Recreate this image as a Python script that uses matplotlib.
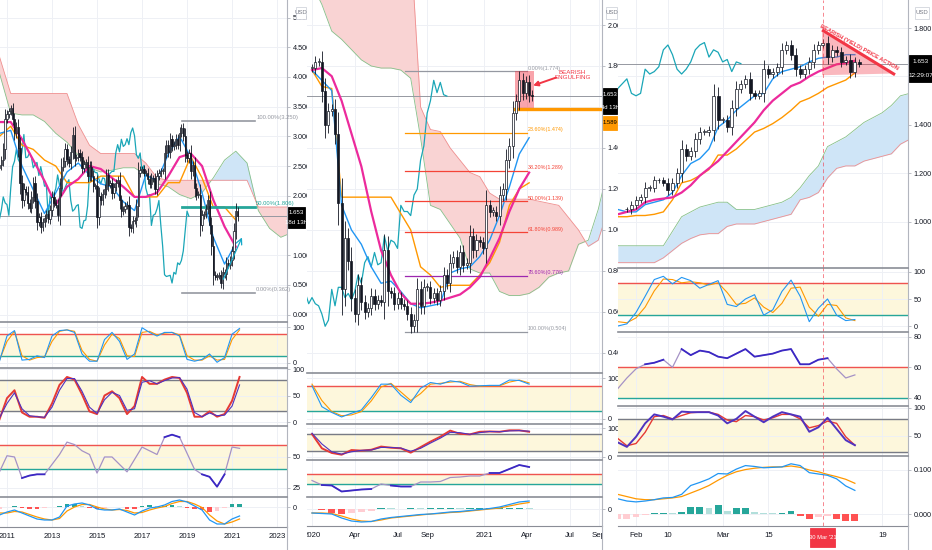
import numpy as np
import matplotlib.pyplot as plt
from matplotlib.patches import Rectangle, Polygon
from matplotlib.lines import Line2D
from matplotlib.transforms import Bbox, TransformedBbox
from matplotlib import font_manager

names = {f.name for f in font_manager.fontManager.ttflist}
fams = [f for f in ['Liberation Sans Narrow', 'Liberation Sans', 'DejaVu Sans'] if f in names]
plt.rcParams['font.family'] = fams

# ---------------- data: left panel, monthly, months since Jan 2010 ----------------
left_close = [2.47, 2.51, 2.60, 2.79, 3.29,
              3.37, 3.42, 3.47, 3.29, 3.05, 3.16, 2.80, 2.22, 1.92, 2.11, 2.07, 1.88,
              1.80, 1.98, 2.21, 1.91, 1.56, 1.64, 1.47, 1.55, 1.63, 1.69, 1.61, 1.76,
              1.98, 1.88, 1.85, 1.67, 2.13, 2.49, 2.58, 2.78, 2.61, 2.55, 2.74, 3.03,
              2.64, 2.65, 2.72, 2.65, 2.47, 2.53, 2.56, 2.34, 2.49, 2.34, 2.16, 2.17,
              1.64, 2.00, 1.92, 2.03, 2.12, 2.35, 2.18, 2.21, 2.04, 2.14, 2.21, 2.27,
              1.92, 1.74, 1.77, 1.83, 1.85, 1.47, 1.45, 1.58, 1.59, 1.83, 2.38, 2.44,
              2.45, 2.39, 2.39, 2.28, 2.20, 2.30, 2.29, 2.12, 2.33, 2.38, 2.41, 2.41,
              2.72, 2.86, 2.74, 2.95, 2.83, 2.86, 2.96, 2.86, 3.06, 3.14, 3.01, 2.69,
              2.63, 2.72, 2.41, 2.51, 2.13, 2.01, 2.02, 1.50, 1.67, 1.69, 1.78, 1.92,
              1.51, 1.15, 0.67, 0.64, 0.65, 0.66, 0.53, 0.71, 0.68, 0.87, 0.84, 0.91,
              1.07, 1.41, 1.74, 1.653]
left_tenkan = [3.05, 3.1, 2.5, 2.1, 1.7, 2.05, 2.4, 2.55, 2.35, 2.2, 2.15, 1.9, 1.75,
               2.35, 2.25, 2.7, 3.0, 2.65, 2.05, 1.3, 0.85, 1.2]
left_kijun = [3.0, 3.17, 2.85, 2.78, 2.6, 2.5, 2.22, 2.22, 2.22, 2.33, 2.33, 2.33, 1.98,
              1.98, 1.98, 2.22, 2.22, 2.66, 2.3, 1.81, 1.81, 1.59]
left_ma = [3.24, 3.24, 2.95, 2.6, 2.25, 1.85, 2.15, 2.28, 2.5, 2.45, 2.3, 2.15, 1.98,
           1.98, 2.05, 2.33, 2.65, 2.71, 2.5, 1.93, 1.48, 1.14]
left_span_a = [4.06, 3.39, 3.36, 3.36, 3.25, 3.05, 2.9, 2.68, 2.47, 2.4, 2.43, 2.47, 2.47,
               2.35, 2.2, 2.15, 2.02, 1.95, 2.05, 2.3, 2.6, 2.75, 2.55, 1.75, 1.45, 1.3, 1.38]
left_span_b = [4.34, 3.72, 3.72, 3.72, 3.72, 3.72, 3.72, 3.2, 2.85, 2.71, 2.71, 2.71, 2.71,
               2.55, 2.3, 2.26, 2.26, 2.26, 2.26, 2.26, 2.26, 2.26, 2.26, 1.81, 1.81, 1.81, 1.81]
left_stoch_k = [5, 75, 90, 8, 10, 20, 15, 75, 90, 92, 85, 25, 5, 5, 65, 85, 60, 10, 25, 98,
                85, 75, 85, 85, 75, 10, 5, 10, 25, 2, 15, 80, 96]
left_stoch_d = [8, 60, 88, 20, 8, 15, 17, 60, 88, 92, 88, 35, 10, 5, 50, 80, 68, 20, 18, 85,
                88, 78, 83, 85, 78, 20, 8, 8, 20, 8, 10, 65, 92]
left_srsi_k = [5, 45, 60, 18, 10, 10, 8, 35, 70, 85, 80, 52, 20, 15, 50, 58, 45, 15, 30, 85,
               72, 72, 80, 85, 83, 55, 10, 10, 20, 10, 15, 40, 85]
left_srsi_d = [8, 35, 55, 25, 12, 10, 9, 28, 60, 82, 82, 58, 28, 16, 42, 56, 50, 22, 25, 75,
               78, 72, 78, 83, 84, 62, 18, 10, 17, 12, 13, 30, 70]
left_rsi = [38, 51, 50, 33, 35, 36, 36, 44, 52, 62, 60, 55, 52, 37, 50, 50, 44, 38, 48, 58,
            55, 52, 66, 68, 66, 53, 40, 36, 34, 26, 36, 58, 57]
left_macd = [-0.8, -0.5, -0.3, -0.6, -0.9, -1.2, -1.3, -1.3, -1.0, 0.1, 0.3, 0.4, 0.2, -0.2,
             -0.3, -0.3, -0.2, -0.5, -0.8, -0.4, -0.1, 0.0, 0.2, 0.55, 0.7, 0.5, 0.1, -0.3,
             -1.3, -1.7, -1.7, -1.2, -0.9]
left_signal = [-0.6, -0.6, -0.45, -0.5, -0.75, -1.0, -1.2, -1.3, -1.15, -0.4, 0.0, 0.25, 0.25,
               0.0, -0.2, -0.3, -0.25, -0.35, -0.6, -0.55, -0.3, -0.1, 0.05, 0.35, 0.55, 0.55,
               0.3, -0.05, -0.8, -1.4, -1.7, -1.5, -1.2]
left_hist = [-0.2, 0.05, 0.1, -0.1, -0.15, -0.2, -0.1, 0.0, 0.15, 0.3, 0.3, 0.15, -0.05, -0.2,
             -0.1, 0.0, 0.05, -0.15, -0.2, 0.15, 0.2, 0.1, 0.15, 0.2, 0.15, -0.05, -0.2, -0.25,
             -0.5, -0.4, -0.1, 0.3, 0.3]
left_fib = [('100.00%', 3.250), ('50.00%', 1.806), ('0.00%', 0.362)]
left_years = ['2011', '2013', '2015', '2017', '2019', '2021', '2023']

# ---------------- data: middle panel, weekly, weeks since Jan 2020 ----------------
mid_close = [1.79, 1.82, 1.82, 1.68, 1.51, 1.58, 1.59, 1.47, 1.13, 0.71,
             0.96, 0.85, 0.67, 0.59, 0.73, 0.65, 0.60, 0.62, 0.68, 0.64,
             0.66, 0.65, 0.90, 0.70, 0.69, 0.64, 0.67, 0.64, 0.63, 0.59,
             0.53, 0.56, 0.71, 0.63, 0.72, 0.72, 0.67, 0.69, 0.66, 0.70,
             0.78, 0.74, 0.84, 0.87, 0.82, 0.89, 0.83, 0.84, 0.97, 0.90,
             0.95, 0.94, 0.91, 1.12, 1.09, 1.09, 1.07, 1.17, 1.20, 1.34,
             1.41, 1.57, 1.63, 1.73, 1.67, 1.72, 1.66, 1.653]
mid_tenkan = [1.78, 1.73, 1.68, 1.12, 1.0, 0.93, 0.82, 0.74, 0.75, 0.70, 0.64, 0.62, 0.63,
              0.64, 0.79, 0.81, 0.82, 0.87, 0.95, 1.07, 1.21, 1.37, 1.45]
mid_kijun = [1.78, 1.70, 1.69, 1.16, 1.16, 1.16, 1.16, 1.16, 1.16, 1.08, 1.0, 0.82, 0.78,
             0.72, 0.73, 0.73, 0.73, 0.78, 0.84, 0.94, 1.12, 1.2, 1.23]
mid_ma = [1.78, 1.79, 1.75, 1.63, 1.47, 1.31, 1.09, 0.90, 0.78, 0.69, 0.64, 0.64, 0.645,
          0.655, 0.67, 0.685, 0.72, 0.77, 0.86, 0.96, 1.09, 1.2, 1.28]
mid_span_a = [2.2, 2.1, 1.97, 1.93, 1.88, 1.83, 1.80, 1.79, 1.79, 1.78, 1.74, 1.45, 1.12, 1.1,
              1.03, 0.96, 0.81, 0.79, 0.79, 0.70, 0.68, 0.68, 0.69, 0.72, 0.77, 0.79, 0.8,
              0.93, 0.95, 1.1, 1.3]
mid_span_b = [2.4, 2.4, 2.4, 2.4, 2.4, 2.4, 2.4, 2.4, 2.4, 2.4, 2.4, 1.6, 1.49, 1.48, 1.40,
              1.34, 1.28, 1.26, 1.18, 1.15, 1.15, 1.15, 1.15, 1.14, 1.13, 1.12, 1.06, 1.0,
              0.92, 0.95, 1.1]
mid_stoch_k = [81, 30, 16, 5, 14, 22, 52, 85, 85, 58, 40, 75, 89, 85, 93, 90, 80, 81, 82, 82,
               95, 94, 85]
mid_stoch_d = [85, 45, 18, 8, 10, 18, 44, 78, 87, 66, 45, 62, 85, 87, 90, 92, 84, 80, 81, 81,
               90, 95, 88]
mid_srsi_k = [79, 30, 14, 8, 24, 22, 25, 36, 32, 30, 15, 34, 53, 70, 91, 80, 78, 87, 88, 87,
              92, 92, 87]
mid_srsi_d = [82, 45, 18, 10, 18, 23, 24, 33, 33, 31, 20, 30, 48, 65, 85, 84, 78, 84, 88, 87,
              90, 91, 89]
mid_rsi = [47, 38, 37, 25, 27, 29, 30, 40, 37, 35, 35, 44, 44, 45, 53, 54, 56, 56, 62, 62,
           70, 78, 74]
mid_macd = [-0.4, -0.45, -0.5, -0.9, -1.2, -1.3, -1.25, -1.0, -0.85, -0.75, -0.65, -0.55,
            -0.5, -0.4, -0.3, -0.25, -0.15, -0.05, 0.05, 0.2, 0.45, 0.7, 0.8]
mid_signal = [-0.4, -0.4, -0.45, -0.7, -1.0, -1.2, -1.25, -1.1, -0.9, -0.8, -0.7, -0.6, -0.5,
              -0.45, -0.35, -0.3, -0.2, -0.1, 0.0, 0.1, 0.3, 0.5, 0.65]
mid_hist = [0, -0.1, -0.35, -0.5, -0.4, -0.3, -0.2, 0.1, 0.08, 0.05, 0.1, 0.08, 0.1, 0.1, 0.1,
            0.08, 0.1, 0.1, 0.1, 0.1, 0.1, 0.12, 0.1]
mid_fib = [('0.00%', 1.774, '#9598a1'), ('23.60%', 1.474, '#ff9800'),
           ('38.20%', 1.289, '#f44336'), ('50.00%', 1.139, '#f44336'),
           ('61.80%', 0.989, '#f44336'), ('78.60%', 0.776, '#9c27b0'),
           ('100.00%', 0.504, '#9598a1')]
mid_months = ['2020', 'Apr', 'Jul', 'Sep', '2021', 'Apr', 'Jul', 'Sep']

# ---------------- data: right panel, daily, trading days since 1 Feb 2021 ----------------
right_close = [1.05, 1.07, 1.09, 1.10, 1.14, 1.14, 1.17, 1.17, 1.16, 1.13, 1.16, 1.20,
               1.30, 1.27, 1.29, 1.34, 1.37, 1.37, 1.38, 1.52, 1.42, 1.42, 1.39, 1.47,
               1.55, 1.57, 1.59, 1.53, 1.52, 1.53, 1.63, 1.61, 1.62, 1.64, 1.71, 1.73,
               1.69, 1.63, 1.61, 1.63, 1.66, 1.71, 1.73, 1.74, 1.68, 1.71, 1.70, 1.66,
               1.67, 1.62, 1.66, 1.653]
right_tenkan = [1.05, 1.04, 1.04, 1.07, 1.08, 1.09, 1.12, 1.19, 1.24, 1.26, 1.3, 1.39, 1.42,
                1.46, 1.49, 1.52, 1.53, 1.59, 1.62, 1.63, 1.64, 1.66, 1.675, 1.68, 1.68,
                1.69, 1.69]
right_kijun = [1.02, 1.02, 1.025, 1.025, 1.03, 1.04, 1.09, 1.16, 1.17, 1.19, 1.215, 1.275,
               1.275, 1.3, 1.335, 1.37, 1.385, 1.405, 1.43, 1.46, 1.495, 1.51, 1.53, 1.555,
               1.57, 1.585, 1.615]
right_ma = [1.03, 1.04, 1.05, 1.08, 1.09, 1.095, 1.10, 1.12, 1.15, 1.19, 1.22, 1.25, 1.29,
            1.33, 1.37, 1.41, 1.46, 1.50, 1.53, 1.56, 1.575, 1.60, 1.62, 1.635, 1.65, 1.655,
            1.665]
right_span_a = [0.90, 0.90, 0.90, 0.90, 0.90, 0.90, 0.96, 1.02, 1.04, 1.06, 1.07, 1.08, 1.08,
                1.05, 1.05, 1.05, 1.06, 1.07, 1.08, 1.1, 1.14, 1.19, 1.23, 1.31, 1.33, 1.35,
                1.38, 1.41, 1.43, 1.45, 1.48, 1.52, 1.53]
right_span_b = [0.83, 0.83, 0.83, 0.83, 0.83, 0.85, 0.88, 0.91, 0.93, 0.945, 0.95, 0.95, 0.98,
                0.99, 0.99, 0.99, 1.0, 1.01, 1.02, 1.03, 1.09, 1.1, 1.12, 1.18, 1.22, 1.23,
                1.23, 1.25, 1.26, 1.27, 1.28, 1.32, 1.34]
right_stoch_k = [0, 4, 25, 55, 86, 92, 78, 90, 84, 70, 77, 84, 40, 36, 50, 58, 20, 30, 64, 85,
                 55, 8, 33, 50, 20, 10, 12]
right_stoch_d = [8, 6, 15, 35, 65, 87, 86, 80, 82, 80, 76, 80, 62, 40, 42, 52, 35, 25, 42, 70,
                 72, 35, 18, 40, 38, 15, 10]
right_rsi = [46, 53, 59, 62, 63, 65, 60, 72, 68, 71, 70, 67, 66, 69, 72, 67, 68, 69, 71, 72,
             62, 62, 65, 66, 59, 53, 55]
right_srsi_k = [38, 30, 48, 72, 88, 84, 79, 93, 92, 92, 92, 86, 72, 80, 94, 84, 74, 84, 92, 88,
                84, 57, 65, 82, 62, 42, 33]
right_srsi_d = [45, 32, 36, 56, 84, 86, 80, 86, 91, 92, 92, 88, 78, 75, 86, 84, 78, 82, 88, 88,
                80, 64, 68, 76, 72, 48, 33]
right_macd = [0.035, 0.03, 0.028, 0.03, 0.033, 0.037, 0.038, 0.045, 0.065, 0.072, 0.08, 0.092,
              0.091, 0.102, 0.11, 0.108, 0.105, 0.106, 0.107, 0.114, 0.11, 0.094, 0.091,
              0.088, 0.08, 0.064, 0.054]
right_signal = [0.045, 0.04, 0.035, 0.033, 0.033, 0.035, 0.037, 0.04, 0.048, 0.056, 0.065,
                0.077, 0.088, 0.096, 0.101, 0.104, 0.106, 0.107, 0.107, 0.109, 0.106, 0.100,
                0.096, 0.09, 0.085, 0.079, 0.07]
right_hist = [-0.01, -0.01, -0.006, -0.002, 0.002, 0.004, 0.002, 0.006, 0.016, 0.017, 0.015,
              0.02, 0.008, 0.014, 0.015, 0.006, 0.003, 0.002, 0.004, 0.008, -0.004, -0.01,
              -0.005, -0.004, -0.01, -0.015, -0.016]
right_days = ['Feb', '10', 'Mar', '15', '19']

LAST = 1.653

# ---------------- figure ----------------
W, H = 932, 550
fig = plt.figure(figsize=(W / 100, H / 100), dpi=100)
fig.patch.set_facecolor('white')

INK = '#131722'
BLUE = '#2196f3'
ORANGE = '#ff9800'
PINK = '#ec2a9c'
TEAL = '#1aa6b7'
RED = '#f23645'
GREEN = '#26a69a'
GRAY = '#787b86'
YELLOW = '#fdf7dc'


def pane(x0, x1, y0, y1, xlim, ylim, yticks, fmt, xticks, top=True, hide=()):
    ax = fig.add_axes([x0 / W, 1 - y1 / H, (x1 - x0) / W, (y1 - y0) / H])
    ax.set_xlim(*xlim)
    ax.set_ylim(*ylim)
    ax.set_xticks(xticks)
    ax.tick_params(axis='x', length=0, labelbottom=False)
    ax.yaxis.tick_right()
    ax.set_yticks(yticks)
    ax.set_yticklabels(['' if any(abs(v - h) < 1e-9 for h in hide) else fmt.format(v)
                        for v in yticks])
    ax.tick_params(axis='y', length=2.5, width=0.6, color='#b2b5be',
                   labelcolor=INK, labelsize=5.2, pad=1.5)
    ax.grid(True, color='#eef0f5', lw=0.7)
    ax.set_axisbelow(True)
    ax.spines['left'].set_visible(False)
    ax.spines['bottom'].set_visible(False)
    ax.spines['right'].set_color('#b2b5be')
    ax.spines['right'].set_linewidth(0.8)
    if top:
        ax.spines['top'].set_color('#8a8d96')
        ax.spines['top'].set_linewidth(1.2)
    else:
        ax.spines['top'].set_visible(False)
    return ax


def knots(t0, step, vals):
    return t0 + step * np.arange(len(vals)), np.asarray(vals, float)


def candles(ax, t, close, width, wick):
    c = np.asarray(close, float)
    o = np.r_[c[0], c[:-1]]
    hi, lo = np.maximum(o, c), np.minimum(o, c)
    ext = 0.25 * (hi - lo) + wick
    ax.vlines(t, lo - ext, hi + ext, color=INK, lw=0.6, zorder=5)
    face = np.where(c >= o, 'white', INK)
    ax.bar(t, np.maximum(hi - lo, wick * 0.3), width, bottom=lo, color=face,
           edgecolor=INK, lw=0.5, zorder=6)


def cloud(ax, t0, step, a, b):
    t, a = knots(t0, step, a)
    _, b = knots(t0, step, b)
    ax.fill_between(t, a, b, where=b >= a, interpolate=True, color='#f9d3d3', lw=0, zorder=1)
    ax.fill_between(t, a, b, where=a > b, interpolate=True, color='#cfe5f7', lw=0, zorder=1)
    ax.plot(t, a, color='#86c08a', lw=0.6, zorder=2)
    ax.plot(t, b, color='#ef8f8f', lw=0.6, zorder=2)


def line(ax, t0, step, vals, **kw):
    t, v = knots(t0, step, vals)
    ax.plot(t, v, **kw)


def ichimoku(ax, t, close, t0, step, tenkan, kijun, ma, lag):
    ax.plot(np.asarray(t) - lag, close, color=TEAL, lw=0.9, zorder=3)
    line(ax, t0, step, kijun, color=ORANGE, lw=1.0, zorder=3)
    line(ax, t0, step, tenkan, color=BLUE, lw=1.0, zorder=3)
    line(ax, t0, step, ma, color=PINK, lw=1.6, zorder=4)
    ax.axhline(LAST, color='#9598a1', lw=0.7, zorder=2)


def stoch(ax, t0, step, k, d, hi_c, lo_c, fill=(20, 80)):
    ax.axhspan(*fill, color=YELLOW, zorder=0.5)
    ax.axhline(80, color=hi_c, lw=1.0, zorder=1)
    ax.axhline(20, color=lo_c, lw=1.0, zorder=1)
    line(ax, t0, step, d, color=ORANGE, lw=0.8, zorder=3)
    line(ax, t0, step, k, color=BLUE, lw=0.8, zorder=3)


def srsi(ax, t0, step, red, purple, red_w, purple_w):
    ax.axhspan(20, 80, color=YELLOW, zorder=0.5)
    ax.axhline(80, color=GRAY, lw=1.0, zorder=1)
    ax.axhline(20, color=GRAY, lw=1.0, zorder=1)
    line(ax, t0, step, red, color='#e53935', lw=red_w, zorder=3)
    line(ax, t0, step, purple, color='#4f33c0', lw=purple_w, zorder=3)


def rsi(ax, t0, step, vals):
    t, v = knots(t0, step, vals)
    ax.axhspan(40, 60, color=YELLOW, zorder=0.5)
    ax.axhline(60, color='#ef5350', lw=1.0, zorder=1)
    ax.axhline(40, color=GREEN, lw=1.0, zorder=1)
    ax.plot(t, v, color='#a592c6', lw=0.9, zorder=3)
    strong = np.where((v > 60) | (v < 40), v, np.nan)
    ax.plot(t, strong, color='#3b28c4', lw=1.3, zorder=4)


def macd(ax, t0, step, m, s, h, width):
    t, hv = knots(t0, step, h)
    prev = np.r_[hv[0], hv[:-1]]
    cols = [('#26a69a' if v >= p else '#b2dfdb') if v >= 0 else
            ('#ff5252' if v < p else '#ffcdd2') for v, p in zip(hv, prev)]
    ax.bar(t, hv, width, color=cols, zorder=2)
    line(ax, t0, step, s, color=ORANGE, lw=0.9, zorder=3)
    line(ax, t0, step, m, color=BLUE, lw=0.9, zorder=3)
    ax.spines['bottom'].set_visible(True)
    ax.spines['bottom'].set_color('#8a8d96')
    ax.tick_params(axis='x', labelbottom=True, labelsize=5.6, labelcolor=INK, pad=4)


def fig_box(x0, y0, x1, y1, color, lines, tcolor='white', size=4.6, edge=None):
    fig.add_artist(Rectangle((x0 / W, 1 - y1 / H), (x1 - x0) / W, (y1 - y0) / H,
                             transform=fig.transFigure, facecolor=color,
                             edgecolor=edge or color, lw=0.6, zorder=20))
    n = len(lines)
    for i, s in enumerate(lines):
        yc = y0 + (y1 - y0) * (i + 0.5) / n
        fig.text((x0 + x1) / 2 / W, 1 - yc / H, s, color=tcolor, size=size,
                 ha='center', va='center', zorder=21)


# ================= LEFT PANEL (monthly) =================
LX = (8.27, 161.3)
lticks = [12, 36, 60, 84, 108, 132, 156]
left_t = np.arange(7, 7 + len(left_close))

ax = pane(0, 287, 0, 322, LX, (-0.126, 5.295), np.arange(0, 5.01, 0.5), '{:.3f}', lticks,
          top=False, hide=(1.5,))
cloud(ax, 8, 6, left_span_a, left_span_b)
ichimoku(ax, left_t, left_close, 8, 6, left_tenkan, left_kijun, left_ma, 26)
for name, val in left_fib:
    col = GREEN if name == '50.00%' else '#9598a1'
    ax.plot([105.3, 144.3], [val, val], color=col, lw=2.0 if col == GREEN else 1.2, zorder=4)
    ax.text(144.8, val + 0.06, f'{name}({val:.3f})', color=col, size=4.2, va='center', zorder=7)
candles(ax, left_t, left_close, 0.7, 0.05)
ax.annotate('', xy=(137.9, 1.34), xytext=(126.7, 0.55),
            arrowprops=dict(arrowstyle='->', color='#17a9c9', lw=0.9), zorder=7)

ax = pane(0, 287, 322, 368, LX, (-13.9, 113.9), [0, 100], '{:g}', lticks)
stoch(ax, 8, 4, left_stoch_k, left_stoch_d, '#ef5350', GREEN)
ax = pane(0, 287, 368, 426, LX, (-7.5, 101.9), [0, 50, 100], '{:g}', lticks)
srsi(ax, 8, 4, left_srsi_k, left_srsi_d, 1.4, 0.8)
ax = pane(0, 287, 426, 497, LX, (17.7, 75), [25, 50], '{:g}', lticks)
rsi(ax, 8, 4, left_rsi)
ax = pane(0, 287, 497, 527, LX, (-2.0, 1.0), [0], '{:g}', lticks)
macd(ax, 8, 4, left_macd, left_signal, left_hist, 2.2)
ax.set_xticklabels(left_years)

# ================= MIDDLE PANEL (weekly) =================
MX = (-1.52, 88.15)
mticks = [0, 13, 26, 35, 52.3, 65.3, 78.3, 87.2]
mid_t = np.arange(len(mid_close))

ax = pane(307, 602, 0, 373, MX, (0.302, 2.122), np.arange(0.4, 2.01, 0.2), '{:.3f}', mticks,
          top=False, hide=(1.6,))
cloud(ax, 0, 3, mid_span_a, mid_span_b)
ichimoku(ax, mid_t, mid_close, 0, 3, mid_tenkan, mid_kijun, mid_ma, 26)
for name, val, col in mid_fib:
    ax.plot([28.3, 65.3], [val, val], color=col, lw=0.9, zorder=4)
    ax.text(65.6, val + 0.014, f'{name}({val:.3f})', color=col, size=3.9, va='center', zorder=7)
ax.add_patch(Rectangle((61.7, 1.589), 5.8, 1.774 - 1.589, facecolor=RED, alpha=0.45,
                       lw=0, zorder=4.5))
ax.plot([61.7, 90], [1.589, 1.589], color=ORANGE, lw=2.4, zorder=4.6)
candles(ax, mid_t, mid_close, 0.62, 0.02)
ax.text(79.2, 1.757, 'BEARISH\nENGULFING', color=RED, size=4.5, ha='center', va='center',
        linespacing=1.15, zorder=8)
ax.annotate('', xy=(66.4, 1.70), xytext=(75.0, 1.748),
            arrowprops=dict(arrowstyle='-|>', color=RED, lw=1.4, mutation_scale=7), zorder=8)

ax = pane(307, 602, 373, 424, MX, (-12.2, 112.2), [0, 100], '{:g}', mticks)
stoch(ax, 0, 3, mid_stoch_k, mid_stoch_d, '#ef5350', GREEN)
ax = pane(307, 602, 424, 460, MX, (-10.3, 113.8), [0, 100], '{:g}', mticks)
srsi(ax, 0, 3, mid_srsi_k, mid_srsi_d, 1.4, 0.8)
ax = pane(307, 602, 460, 497, MX, (14, 88), [], '{:g}', mticks)
rsi(ax, 0, 3, mid_rsi)
ax = pane(307, 602, 497, 526, MX, (-1.7, 1.2), [0], '{:g}', mticks)
macd(ax, 0, 3, mid_macd, mid_signal, mid_hist, 2.2)
ax.set_xticklabels(mid_months)
clip = TransformedBbox(Bbox.from_extents(307 / W, 0, 602 / W, 1), fig.transFigure)
for lbl in ax.get_xticklabels():
    lbl.set_clip_box(clip)
    lbl.set_clip_on(True)

# ================= RIGHT PANEL (daily) =================
RX = (-3.95, 59.65)
rticks = [0, 7, 19, 29, 54]
right_t = np.arange(-2, -2 + len(right_close))
CROSS = 41

ax = pane(618, 908, 0, 268, RX, (0.808, 1.916), np.arange(1.0, 1.81, 0.2), '{:.3f}', rticks,
          top=False, hide=(1.6,))
cloud(ax, -4, 2, right_span_a, right_span_b)
ichimoku(ax, right_t, right_close, -4, 2, right_tenkan, right_kijun, right_ma, 26)
ax.add_patch(Polygon([(40.8, 1.785), (56.3, 1.612), (40.8, 1.605)], closed=True,
                     facecolor=RED, alpha=0.35, lw=0, zorder=4.5))
candles(ax, right_t, right_close, 0.66, 0.012)
ax.plot([40.8, 56.8], [1.792, 1.607], color=RED, lw=2.2, zorder=7, solid_capstyle='butt')
ax.text(48.6, 1.712, 'BEARISH (YIELD) PRICE ACTION', color=RED, size=4.1, weight='bold',
        rotation=-29, rotation_mode='anchor', ha='center', va='bottom', zorder=8)
right_axes = [ax]

ax = pane(618, 908, 268, 332, RX, (-11.1, 107.4), [0, 50, 100], '{:g}', rticks)
stoch(ax, -4, 2, right_stoch_k, right_stoch_d, '#ef5350', GREEN)
right_axes.append(ax)
ax = pane(618, 908, 332, 406, RX, (34.6, 83.2), [40, 60, 80], '{:g}', rticks)
rsi(ax, -4, 2, right_rsi)
right_axes.append(ax)
ax = pane(618, 908, 406, 456, RX, (13.7, 103), [50, 100], '{:g}', rticks)
srsi(ax, -4, 2, right_srsi_d, right_srsi_k, 1.0, 1.4)
right_axes.append(ax)
ax = pane(618, 908, 456, 526, RX, (-0.0264, 0.1316), [0.0, 0.1], '{:.3f}', rticks)
macd(ax, -4, 2, right_macd, right_signal, right_hist, 1.5)
ax.set_xticklabels(right_days)
right_axes.append(ax)
for a in right_axes:
    a.axvline(CROSS, color=RED, lw=0.7, ls=(0, (4, 3)), alpha=0.6, zorder=9)

# ---------------- axis furniture ----------------
for xa in (287, 602, 908):
    fig.add_artist(Line2D([xa / W, xa / W], [0, 1 - 526 / H], transform=fig.transFigure,
                          color='#b2b5be', lw=0.8))

fig_box(288, 207, 305, 228, '#000000', ['1.653', '18d 13h'], size=4.4)
fig_box(603, 88, 617, 114, '#000000', ['1.653', '4d 13h'], size=4.2)
fig_box(603, 116, 617, 130, ORANGE, ['1.589'], tcolor='#000000', size=4.2)
fig_box(909, 55, 932, 82, '#000000', ['1.653', '12:29:07'], size=4.6)
for x0, x1 in ((296, 306), (606, 617), (915, 929)):
    fig_box(x0, 7, x1, 19, 'white', ['USD'], tcolor=GRAY, size=4.3, edge='#d1d4dc')
fig_box(810, 528, 835, 547, RED, ["30 Mar '21"], size=4.2)

fig.savefig('out.png', dpi=100)
